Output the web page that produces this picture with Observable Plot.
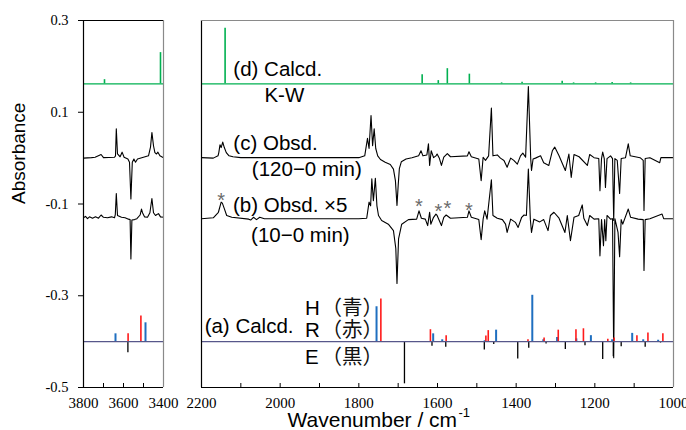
<!DOCTYPE html>
<html><head><meta charset="utf-8">
<script src="https://cdn.jsdelivr.net/npm/d3@7"></script>
<script src="https://cdn.jsdelivr.net/npm/@observablehq/plot@0.6"></script>
<style>
body{margin:0;background:#fff;}
#chart{position:relative;width:686px;height:430px;overflow:hidden;background:#fff;}
#chart svg{position:absolute;top:0;}
#chart g[aria-label="x-axis tick label"], #chart g[aria-label="y-axis tick label"],
#chart g[aria-label="x-axis tick label"] text, #chart g[aria-label="y-axis tick label"] text {
  font-family: 'Liberation Serif', 'Times New Roman', serif !important;
}
</style></head><body><div id="chart"></div>
<script>
// ---------- scales / ticks ----------
const yDomain = [-0.5, 0.3];
const yTicks = [0.3, 0.1, -0.1, -0.3, -0.5];
const leftDomain = [3800, 3400];
const leftTickLabels = [3800, 3600, 3400];
const leftMinorTicks = [3700, 3600, 3500];
const rightDomain = [2200, 1000];
const rightTickLabels = [2200, 2000, 1800, 1600, 1400, 1200, 1000];
const rightMinorTicks = [2100, 2000, 1900, 1800, 1700, 1600, 1500, 1400, 1300, 1200, 1100];

// ---------- offsets of the stick spectra ----------
const offsetD = 0.162;   // (d) Calcd. K-W
const offsetA = -0.4;    // (a) Calcd. H / R / E

// ---------- (d) calculated K-W sticks [wavenumber, intensity] ----------
const sticksD_left = [[3695, 0.009], [3415, 0.068]];
const sticksD_right = [[2140, 0.121], [1639, 0.020], [1598, 0.007], [1575, 0.033], [1519, 0.021], [1437, 0.002], [1385, 0.0035], [1283, 0.0056], [1254, 0.002], [1198, 0.002], [1156, 0.003], [1109, 0.002]];

// ---------- (a) calculated sticks ----------
const sticksH_left = [[3640, 0.017], [3490, 0.041]];
const sticksR_left = [[3577, 0.017], [3513, 0.056]];
const sticksE_left = [[3578, -0.024]];
const sticksH_right = [[1755, 0.076], [1611, 0.017], [1588, 0.004], [1480, 0.002], [1451, 0.025], [1359, 0.101], [1331, 0.004], [1296, 0.009], [1247, 0.006], [1210, 0.013], [1156, 0.004], [1105, 0.018], [1077, 0.004], [1039, 0.003]];
const sticksR_right = [[1744, 0.093], [1618, 0.026], [1578, 0.013], [1477, 0.012], [1471, 0.024], [1370, 0.004], [1329, 0.008], [1293, 0.025], [1248, 0.026], [1229, 0.028], [1167, 0.005], [1151, 0.008], [1093, 0.013], [1065, 0.019], [1027, 0.017]];
const sticksE_right = [[1684, -0.092], [1614, -0.010], [1579, -0.012], [1481, -0.018], [1457, -0.0065], [1396, -0.038], [1368, -0.0145], [1324, -0.005], [1275, -0.017], [1225, -0.009], [1180, -0.039], [1153, -0.033], [1133, -0.011], [1072, -0.012], [1033, -0.003]];

// ---------- (c) observed 120-0 min [wavenumber, absorbance] ----------
const traceC_left = [[3800,0.000],[3760,0.001],[3742,0.002],[3712,0.008],[3700,0.001],[3645,0.002],[3640,0.005],[3636,0.064],[3630,0.009],[3617,0.003],[3607,0.013],[3597,0.002],[3578,-0.002],[3570,-0.009],[3563,-0.089],[3556,-0.009],[3548,-0.002],[3540,-0.009],[3530,-0.002],[3475,0.005],[3465,0.024],[3458,0.056],[3450,0.027],[3443,0.012],[3435,0.009],[3428,0.013],[3418,0.005],[3400,0.001]];
const traceC_right = [[2200,0.001],[2170,0.000],[2158,0.005],[2156,0.012],[2153,0.029],[2150,0.023],[2146,0.035],[2142,0.023],[2137,0.012],[2130,0.005],[2120,0.003],[2100,0.001],[1950,0.001],[1800,0.001],[1785,0.005],[1778,0.043],[1774,0.021],[1769,0.093],[1765,0.027],[1761,0.064],[1757,0.021],[1752,0.005],[1745,-0.003],[1733,-0.009],[1720,-0.014],[1712,-0.024],[1707,-0.049],[1703,-0.103],[1700,-0.060],[1697,-0.023],[1692,-0.008],[1680,-0.002],[1665,0.001],[1648,0.005],[1642,0.016],[1637,0.005],[1627,0.007],[1623,0.031],[1620,-0.016],[1616,0.016],[1610,0.001],[1604,0.005],[1601,0.009],[1595,-0.001],[1590,-0.016],[1584,0.002],[1575,0.010],[1567,0.003],[1524,0.005],[1520,0.014],[1514,0.003],[1495,-0.002],[1489,-0.049],[1484,0.002],[1478,-0.005],[1470,0.005],[1463,0.109],[1459,0.005],[1448,0.007],[1440,0.000],[1431,-0.005],[1423,-0.020],[1414,0.000],[1406,-0.005],[1397,-0.013],[1389,0.005],[1383,0.011],[1376,0.002],[1369,0.156],[1363,-0.002],[1361,-0.027],[1357,-0.002],[1351,0.000],[1338,0.005],[1330,-0.010],[1317,-0.016],[1308,0.016],[1302,0.024],[1291,0.005],[1275,-0.027],[1266,0.009],[1260,-0.042],[1253,0.008],[1240,0.003],[1219,-0.016],[1213,0.008],[1202,0.001],[1190,-0.001],[1187,-0.071],[1183,-0.001],[1180,0.013],[1176,-0.001],[1173,-0.064],[1169,-0.001],[1160,0.005],[1155,-0.001],[1152,-0.136],[1149,-0.001],[1143,-0.005],[1137,-0.077],[1133,-0.001],[1122,0.001],[1115,0.031],[1110,0.005],[1085,0.001],[1077,-0.005],[1075,-0.114],[1072,-0.001],[1060,0.001],[1035,-0.010],[1032,0.001],[1000,0.001]];

// ---------- (b) observed 10-0 min x5 ----------
const traceB_left = [[3800,-0.130],[3790,-0.127],[3780,-0.132],[3770,-0.128],[3755,-0.131],[3740,-0.128],[3725,-0.131],[3712,-0.124],[3700,-0.129],[3680,-0.130],[3660,-0.128],[3645,-0.130],[3641,-0.123],[3636,-0.077],[3630,-0.125],[3610,-0.129],[3592,-0.130],[3575,-0.133],[3567,-0.134],[3563,-0.220],[3558,-0.135],[3545,-0.134],[3533,-0.132],[3517,-0.124],[3510,-0.111],[3505,-0.119],[3495,-0.128],[3480,-0.129],[3468,-0.119],[3458,-0.088],[3450,-0.119],[3440,-0.125],[3433,-0.123],[3425,-0.121],[3415,-0.128],[3400,-0.129]];
const traceB_right = [[2200,-0.132],[2170,-0.130],[2157,-0.118],[2150,-0.096],[2147,-0.098],[2142,-0.110],[2136,-0.125],[2123,-0.129],[2080,-0.133],[2075,-0.135],[2068,-0.129],[2060,-0.134],[2052,-0.129],[2040,-0.132],[1800,-0.132],[1780,-0.131],[1774,-0.096],[1770,-0.104],[1767,-0.045],[1763,-0.093],[1758,-0.044],[1754,-0.104],[1750,-0.125],[1742,-0.136],[1725,-0.144],[1712,-0.158],[1706,-0.197],[1703,-0.273],[1699,-0.176],[1691,-0.144],[1674,-0.134],[1653,-0.133],[1647,-0.115],[1641,-0.131],[1631,-0.133],[1625,-0.147],[1620,-0.118],[1617,-0.144],[1610,-0.129],[1604,-0.122],[1601,-0.125],[1590,-0.147],[1584,-0.129],[1578,-0.124],[1567,-0.131],[1524,-0.129],[1520,-0.115],[1514,-0.129],[1495,-0.134],[1489,-0.178],[1484,-0.133],[1480,-0.115],[1474,-0.133],[1463,-0.047],[1459,-0.125],[1448,-0.131],[1435,-0.134],[1427,-0.144],[1423,-0.162],[1414,-0.133],[1402,-0.140],[1395,-0.151],[1386,-0.129],[1380,-0.124],[1374,-0.125],[1369,-0.024],[1364,-0.133],[1361,-0.162],[1355,-0.133],[1340,-0.139],[1330,-0.134],[1319,-0.158],[1313,-0.125],[1304,-0.118],[1291,-0.131],[1276,-0.162],[1270,-0.125],[1262,-0.180],[1253,-0.129],[1241,-0.125],[1232,-0.102],[1228,-0.131],[1219,-0.147],[1213,-0.125],[1202,-0.133],[1190,-0.132],[1187,-0.213],[1183,-0.134],[1178,-0.191],[1175,-0.134],[1172,-0.180],[1169,-0.125],[1160,-0.133],[1155,-0.132],[1152,-0.435],[1149,-0.132],[1141,-0.162],[1137,-0.215],[1133,-0.134],[1129,-0.144],[1115,-0.111],[1109,-0.129],[1090,-0.133],[1077,-0.134],[1075,-0.245],[1072,-0.134],[1060,-0.132],[1029,-0.122],[1025,-0.132],[1000,-0.132]];

// ---------- annotations ----------
const labelTexts = ["(d) Calcd.", "K-W", "(c) Obsd.", "(120\u22120 min)", "(b) Obsd. \u00d75", "(10\u22120 min)", "(a) Calcd.", "H", "R", "E"];
const labelWn = [2119, 2040, 2119, 2072, 2120, 2074, 2192, 1937, 1937, 1937];
const labelAbs = [0.178, 0.123, 0.017, -0.040, -0.118, -0.182, -0.382, -0.343, -0.391, -0.448];
const cjkTexts = ["\uff08\u9752\uff09", "\uff08\u8d64\uff09", "\uff08\u9ed2\uff09"];
const cjkWn = [1895, 1895, 1895];
const cjkAbs = [-0.343, -0.391, -0.448];
const starWn = [2150, 1647, 1598, 1575, 1520];
const starAbs = [-0.079, -0.092, -0.103, -0.096, -0.102];

// ---------- styling ----------
const SANS = "'Liberation Sans', Arial, Helvetica, sans-serif";
const SERIF = "'Liberation Serif', 'Times New Roman', serif";
const CJK = "'Noto Sans CJK JP', 'Noto Sans CJK SC', sans-serif";
const GREEN = "#00b050", BLUE = "#1f6fc0", RED = "#ff1a1a", BASE_A = "#57578a";
const svgStyle = {background: "transparent", overflow: "visible", fontFamily: SERIF, fontSize: "15px", color: "#000"};

const toObj = (arr) => arr.map(([wn, v]) => ({wn, v}));
const stickMarks = (data, base, stroke, strokeWidth) =>
  Plot.ruleX(toObj(data), {x: "wn", y1: () => base, y2: (d) => base + d.v, stroke, strokeWidth});
const traceMark = (data) => Plot.line(toObj(data), {x: "wn", y: "v", stroke: "#000", strokeWidth: 1.1});
const intFmt = (d) => String(d);

function frameMarks(domain, topColor) {
  return [
    Plot.ruleX([domain[0]], {stroke: "#000", strokeWidth: 1.2}),
    Plot.ruleX([domain[1]], {stroke: "#8a8a8a", strokeWidth: 1.2}),
    Plot.ruleY([yDomain[0]], {stroke: "#000", strokeWidth: 1.2}),
    Plot.ruleY([yDomain[1]], {stroke: topColor, strokeWidth: 1.2})
  ];
}

// ---------- left panel (3800-3400) ----------
const left = Plot.plot({
  width: 170, height: 430, marginTop: 20, marginBottom: 43, marginLeft: 83, marginRight: 7,
  style: svgStyle,
  x: {domain: leftDomain},
  y: {domain: yDomain},
  marks: [
    Plot.ruleY([offsetD], {stroke: GREEN, strokeWidth: 1.2}),
    stickMarks(sticksD_left, offsetD, GREEN, 1.6),
    traceMark(traceC_left),
    traceMark(traceB_left),
    stickMarks(sticksE_left, offsetA, "#000", 1.3),
    stickMarks(sticksH_left, offsetA, BLUE, 2),
    stickMarks(sticksR_left, offsetA, RED, 1.6),
    Plot.ruleY([offsetA], {stroke: BASE_A, strokeWidth: 1.2}),
    ...frameMarks(leftDomain, "#000"),
    Plot.tickX(leftMinorTicks, {x: (d) => d, insetTop: 363, stroke: "#000"}),
    Plot.axisX({ticks: leftTickLabels, tickSize: 0, tickPadding: 10, tickFormat: intFmt, fontSize: 15, fontFamily: SERIF, label: null}),
    Plot.axisY({ticks: yTicks, tickSize: 5, tickPadding: 10, tickFormat: (d) => d.toFixed(1), fontSize: 14.5, fontFamily: SERIF, label: null}),
    Plot.text(["Absorbance"], {frameAnchor: "left", dx: -65, rotate: -90, fontSize: 19, fontFamily: SANS, fill: "#000"})
  ]
});

// ---------- right panel (2200-1000) ----------
const right = Plot.plot({
  width: 516, height: 430, marginTop: 20, marginBottom: 43, marginLeft: 31, marginRight: 13,
  style: svgStyle,
  x: {domain: rightDomain},
  y: {domain: yDomain, axis: null},
  marks: [
    Plot.ruleY([offsetD], {stroke: GREEN, strokeWidth: 1.2}),
    stickMarks(sticksD_right, offsetD, GREEN, 1.6),
    traceMark(traceC_right),
    traceMark(traceB_right),
    stickMarks(sticksE_right, offsetA, "#000", 1.3),
    stickMarks(sticksH_right, offsetA, BLUE, 2),
    stickMarks(sticksR_right, offsetA, RED, 1.6),
    Plot.ruleY([offsetA], {stroke: BASE_A, strokeWidth: 1.2}),
    ...frameMarks(rightDomain, "#8a8a8a"),
    Plot.tickX(rightMinorTicks, {x: (d) => d, insetTop: 363, stroke: "#000"}),
    Plot.axisX({ticks: rightTickLabels, tickSize: 0, tickPadding: 10, tickFormat: intFmt, fontSize: 15, fontFamily: SERIF, label: null}),
    Plot.text(labelTexts, {x: (d, i) => labelWn[i], y: (d, i) => labelAbs[i], text: (d) => d, textAnchor: "start", lineAnchor: "bottom", fontSize: 20.5, fontFamily: SANS, fill: "#000"}),
    Plot.text(cjkTexts, {x: (d, i) => cjkWn[i], y: (d, i) => cjkAbs[i], text: (d) => d, textAnchor: "start", lineAnchor: "bottom", fontSize: 20.5, fontFamily: CJK, fill: "#111"}),
    Plot.text(starWn, {x: (d) => d, y: (d, i) => starAbs[i], text: () => "*", dy: 6, fontSize: 20, fontFamily: SANS, fill: "#6a6a6a"}),
    Plot.text(["Wavenumber / cm"], {frameAnchor: "bottom-left", dx: 86, dy: 39, textAnchor: "start", lineAnchor: "bottom", fontSize: 21, fontFamily: SANS, fill: "#000"}),
    Plot.text(["-1"], {frameAnchor: "bottom-left", dx: 257, dy: 29, textAnchor: "start", lineAnchor: "bottom", fontSize: 13, fontFamily: SANS, fill: "#000"})
  ]
});

const chart = document.getElementById("chart");
left.style.left = "0px";
right.style.left = "170px";
chart.append(left, right);
</script></body></html>
